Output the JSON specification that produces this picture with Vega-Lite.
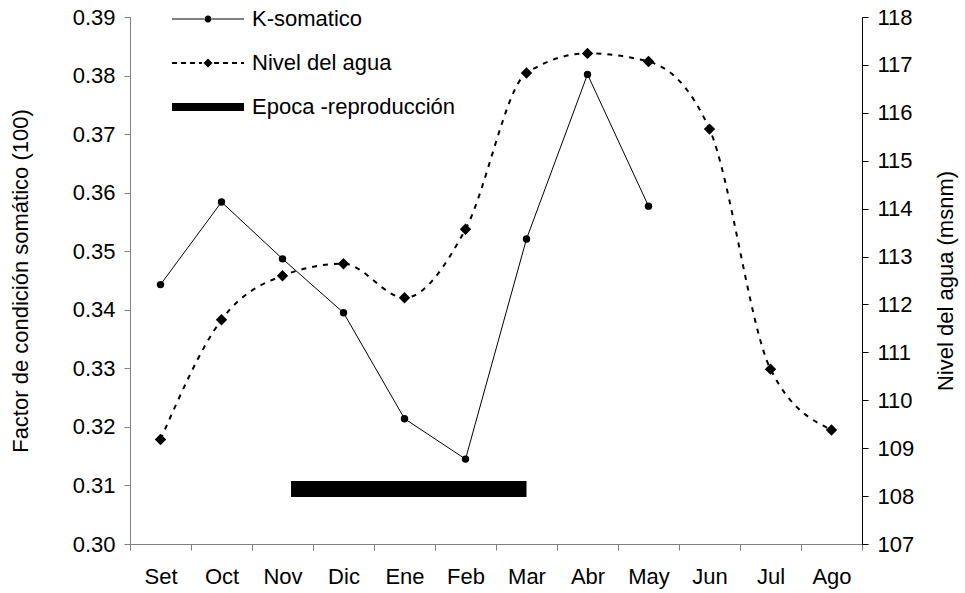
{
  "$schema": "https://vega.github.io/schema/vega-lite/v6.json",
  "autosize": "none",
  "width": 732,
  "height": 527,
  "padding": {"left": 130, "top": 17, "right": 103, "bottom": 49},
  "background": "white",
  "datasets": {
    "ksom": [
      {"mes": "Set", "k": 0.3443},
      {"mes": "Oct", "k": 0.3584},
      {"mes": "Nov", "k": 0.3487},
      {"mes": "Dic", "k": 0.3395},
      {"mes": "Ene", "k": 0.3214},
      {"mes": "Feb", "k": 0.3145},
      {"mes": "Mar", "k": 0.3521},
      {"mes": "Abr", "k": 0.3802},
      {"mes": "May", "k": 0.3577}
    ],
    "nivel": [
      {"mes": "Set", "nivel": 109.18},
      {"mes": "Oct", "nivel": 111.68},
      {"mes": "Nov", "nivel": 112.6},
      {"mes": "Dic", "nivel": 112.85},
      {"mes": "Ene", "nivel": 112.14},
      {"mes": "Feb", "nivel": 113.57},
      {"mes": "Mar", "nivel": 116.83},
      {"mes": "Abr", "nivel": 117.24},
      {"mes": "May", "nivel": 117.07},
      {"mes": "Jun", "nivel": 115.66},
      {"mes": "Jul", "nivel": 110.65},
      {"mes": "Ago", "nivel": 109.38}
    ],
    "epoca": [
      {"inicio": 2.64, "fin": 6.5, "k": 0.3094}
    ],
    "leyenda": [
      {"serie": "K-somatico"},
      {"serie": "Nivel del agua"},
      {"serie": "Epoca -reproducción"}
    ]
  },
  "layer": [
    {
      "data": {"name": "ksom"},
      "mark": {"type": "line", "color": "black", "strokeWidth": 1,
               "point": {"filled": true, "shape": "circle", "size": 55, "color": "black"}},
      "encoding": {
        "x": {"field": "mes", "type": "nominal",
              "scale": {"domain": ["Set","Oct","Nov","Dic","Ene","Feb","Mar","Abr","May","Jun","Jul","Ago"], "paddingInner": 0, "paddingOuter": 0},
              "axis": {"title": null, "labelAngle": 0, "tickBand": "extent", "domainColor": "#808080", "tickColor": "#808080", "labelPadding": 16}},
        "y": {"field": "k", "type": "quantitative",
              "scale": {"domain": [0.30, 0.39], "zero": false, "nice": false},
              "axis": {"title": "Factor de condición somático (100)", "values": [0.30,0.31,0.32,0.33,0.34,0.35,0.36,0.37,0.38,0.39], "format": ".2f", "domainColor": "#808080", "tickColor": "#808080", "labelPadding": 9, "titlePadding": 40}}
      }
    },
    {
      "data": {"name": "nivel"},
      "mark": {"type": "line", "color": "black", "strokeWidth": 2, "strokeDash": [5, 6], "interpolate": "monotone",
               "point": {"filled": true, "shape": "diamond", "size": 130, "color": "black"}},
      "encoding": {
        "x": {"field": "mes", "type": "nominal",
              "scale": {"domain": ["Set","Oct","Nov","Dic","Ene","Feb","Mar","Abr","May","Jun","Jul","Ago"], "paddingInner": 0, "paddingOuter": 0},
              "axis": null},
        "y": {"field": "nivel", "type": "quantitative",
              "scale": {"domain": [107, 118], "zero": false, "nice": false},
              "axis": {"orient": "right", "title": "Nivel del agua (msnm)", "values": [107,108,109,110,111,112,113,114,115,116,117,118], "domainColor": "black", "tickColor": "black", "labelPadding": 9, "titlePadding": 22, "titleAngle": 270, "titleBaseline": "top"}}
      }
    },
    {
      "data": {"name": "epoca"},
      "mark": {"type": "rule", "color": "black", "strokeWidth": 16, "strokeCap": "butt"},
      "encoding": {
        "x": {"field": "inicio", "type": "quantitative", "scale": {"domain": [0, 12], "nice": false, "zero": false}, "axis": null},
        "x2": {"field": "fin"},
        "y": {"field": "k", "type": "quantitative", "scale": {"domain": [0.30, 0.39], "zero": false, "nice": false}, "axis": null}
      }
    },
    {
      "data": {"name": "leyenda"},
      "mark": {"type": "point", "filled": true, "opacity": 0, "color": "black"},
      "encoding": {
        "shape": {
          "field": "serie", "type": "nominal",
          "scale": {
            "domain": ["K-somatico", "Nivel del agua", "Epoca -reproducción"],
            "range": [
              "M-3.6,-0.06H-0.3V0.06H-3.6Z M0.3,-0.06H3.6V0.06H0.3Z M-0.35,0A0.35,0.35 0 1 0 0.35,0A0.35,0.35 0 1 0 -0.35,0Z",
              "M-3.6,-0.1H-3.1V0.1H-3.6Z M-2.7,-0.1H-2.2V0.1H-2.7Z M-1.8,-0.1H-1.3V0.1H-1.8Z M-0.9,-0.1H-0.6V0.1H-0.9Z M0.6,-0.1H1.1V0.1H0.6Z M1.5,-0.1H2.0V0.1H1.5Z M2.4,-0.1H2.9V0.1H2.4Z M3.3,-0.1H3.6V0.1H3.3Z M0,-0.45L0.45,0L0,0.45L-0.45,0Z",
              "M-3.6,-0.4H3.6V0.4H-3.6Z"
            ]
          },
          "legend": {
            "title": null, "orient": "none", "legendX": 67, "legendY": -9,
            "symbolSize": 400, "symbolOpacity": 1, "symbolFillColor": "black", "symbolStrokeWidth": 0,
            "labelFontSize": 22, "labelColor": "black", "labelFont": "Liberation Sans",
            "labelOffset": 33, "rowPadding": 22, "padding": 0, "labelLimit": 400
          }
        }
      }
    }
  ],
  "resolve": {"scale": {"x": "independent", "y": "independent"}},
  "config": {
    "font": "Liberation Sans",
    "view": {"stroke": null},
    "axis": {"grid": false, "labelFontSize": 22, "titleFontSize": 22, "labelColor": "black", "titleColor": "black", "titleFontWeight": "normal", "tickSize": 6, "labelFont": "Liberation Sans", "titleFont": "Liberation Sans"}
  }
}
